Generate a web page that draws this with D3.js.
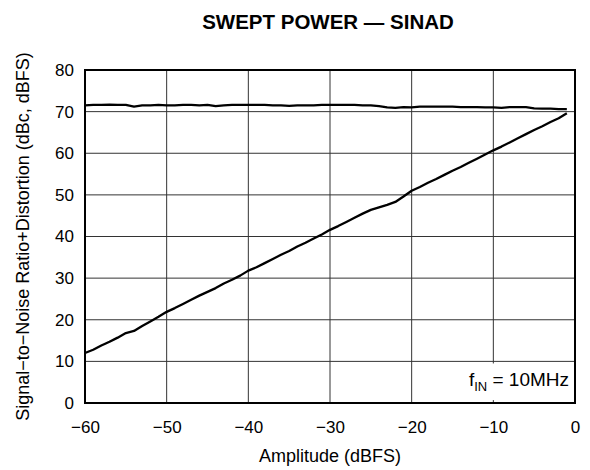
<!DOCTYPE html>
<html>
<head>
<meta charset="utf-8">
<script src="https://cdn.jsdelivr.net/npm/d3@7"></script>
<style>
  body { margin: 0; background: #fff; }
  svg { font-family: "Liberation Sans", Arial, sans-serif; }
</style>
</head>
<body>
<svg width="590" height="470"></svg>
<script>
// amplitude (dBFS)
const amplitude = [
  -60, -59, -58, -57, -56, -55, -54, -53, -52, -51,
  -50, -49, -48, -47, -46, -45, -44, -43, -42, -41,
  -40, -39, -38, -37, -36, -35, -34, -33, -32, -31,
  -30, -29, -28, -27, -26, -25, -24, -23, -22, -21,
  -20, -19, -18, -17, -16, -15, -14, -13, -12, -11,
  -10, -9, -8, -7, -6, -5, -4, -3, -2, -1
];
// SINAD in dBFS
const sinadFs = [
  71.5, 71.6, 71.6, 71.7, 71.6, 71.6, 71.2, 71.5, 71.5, 71.6,
  71.5, 71.5, 71.6, 71.6, 71.5, 71.6, 71.3, 71.5, 71.6, 71.6,
  71.6, 71.6, 71.6, 71.5, 71.5, 71.4, 71.5, 71.5, 71.5, 71.6,
  71.6, 71.6, 71.6, 71.6, 71.5, 71.5, 71.3, 71.0, 70.9, 71.1,
  71.0, 71.2, 71.2, 71.2, 71.2, 71.2, 71.1, 71.1, 71.1, 71.0,
  71.0, 70.9, 71.1, 71.1, 71.1, 70.8, 70.7, 70.7, 70.6, 70.6
];
// SINAD in dBc
const sinadC = [
  12.0, 12.8, 13.8, 14.7, 15.7, 16.8, 17.3, 18.5, 19.6, 20.7,
  21.9, 22.8, 23.8, 24.8, 25.8, 26.7, 27.6, 28.7, 29.6, 30.6,
  31.8, 32.6, 33.6, 34.6, 35.6, 36.5, 37.6, 38.5, 39.5, 40.5,
  41.6, 42.5, 43.5, 44.5, 45.5, 46.4, 47.0, 47.6, 48.3, 49.6,
  51.0, 51.9, 52.9, 53.8, 54.8, 55.8, 56.7, 57.7, 58.7, 59.7,
  60.7, 61.6, 62.6, 63.6, 64.6, 65.6, 66.5, 67.5, 68.4, 69.6
];
const xTicks = [-60, -50, -40, -30, -20, -10, 0];
const yTicks = [0, 10, 20, 30, 40, 50, 60, 70, 80];

const svg = d3.select('svg');
const margin = { top: 70, right: 15, bottom: 67, left: 85 };
const width = +svg.attr('width');
const height = +svg.attr('height');
const innerWidth = width - margin.left - margin.right;
const innerHeight = height - margin.top - margin.bottom;

const xScale = d3.scaleLinear().domain([-60, 0]).range([0, innerWidth]);
const yScale = d3.scaleLinear().domain([0, 80]).range([innerHeight, 0]);

const g = svg.append('g')
  .attr('transform', `translate(${margin.left},${margin.top})`);

// grid
g.append('g').selectAll('line').data(xTicks.slice(1, -1))
  .enter().append('line')
    .attr('x1', d => xScale(d)).attr('x2', d => xScale(d))
    .attr('y1', 0).attr('y2', innerHeight)
    .attr('stroke', '#333').attr('stroke-width', 1);
g.append('g').selectAll('line').data(yTicks.slice(1, -1))
  .enter().append('line')
    .attr('x1', 0).attr('x2', innerWidth)
    .attr('y1', d => yScale(d)).attr('y2', d => yScale(d))
    .attr('stroke', '#333').attr('stroke-width', 1);

// axes (labels only)
const fmt = d => d < 0 ? '\u2212' + Math.abs(d) : '' + d;
const xAxisG = g.append('g')
  .attr('transform', `translate(0,${innerHeight})`)
  .attr('font-family', null).attr('font-size', 17)
  .call(d3.axisBottom(xScale).tickValues(xTicks).tickSize(0).tickPadding(18).tickFormat(fmt));
xAxisG.attr('font-family', null).attr('font-size', 17);
xAxisG.select('.domain').remove();
xAxisG.selectAll('text').attr('fill', '#000');

const yAxisG = g.append('g')
  .call(d3.axisLeft(yScale).tickValues(yTicks).tickSize(0).tickPadding(11).tickFormat(fmt));
yAxisG.attr('font-family', null).attr('font-size', 17);
yAxisG.select('.domain').remove();
yAxisG.selectAll('text').attr('fill', '#000');

// annotation background + text
const note = g.append('g');
note.append('rect')
  .attr('x', xScale(-14.5)).attr('y', yScale(9.5))
  .attr('width', innerWidth - xScale(-14.5) - 1)
  .attr('height', yScale(0.7) - yScale(9.5))
  .attr('fill', '#fff');
const noteText = note.append('text')
  .attr('x', innerWidth - 6).attr('y', yScale(4))
  .attr('text-anchor', 'end')
  .attr('font-size', 19);
noteText.append('tspan').text('f');
noteText.append('tspan').attr('font-size', 13).attr('dy', 5).text('IN');
noteText.append('tspan').attr('dy', -5).text(' = 10MHz');

// lines
const lineGen = ys => d3.line()
  .x((d, i) => xScale(amplitude[i]))
  .y(d => yScale(d))(ys);

[sinadFs, sinadC].forEach(s => {
  g.append('path')
    .attr('d', lineGen(s))
    .attr('fill', 'none')
    .attr('stroke', '#000')
    .attr('stroke-width', 2.3)
    .attr('stroke-linejoin', 'round');
});

// frame
g.append('rect')
  .attr('width', innerWidth).attr('height', innerHeight)
  .attr('fill', 'none').attr('stroke', '#000').attr('stroke-width', 2);

// titles
svg.append('text')
  .attr('x', margin.left + innerWidth / 2 - 2).attr('y', 29)
  .attr('text-anchor', 'middle')
  .attr('font-size', 20.5).attr('font-weight', 'bold')
  .text('SWEPT POWER \u2014 SINAD');

svg.append('text')
  .attr('x', margin.left + innerWidth / 2).attr('y', 462)
  .attr('text-anchor', 'middle')
  .attr('font-size', 18)
  .text('Amplitude (dBFS)');

svg.append('text')
  .attr('transform', `translate(29,${margin.top + innerHeight / 2}) rotate(-90)`)
  .attr('text-anchor', 'middle')
  .attr('font-size', 18)
  .text('Signal\u2212to\u2212Noise Ratio+Distortion (dBc, dBFS)');
</script>
</body>
</html>
